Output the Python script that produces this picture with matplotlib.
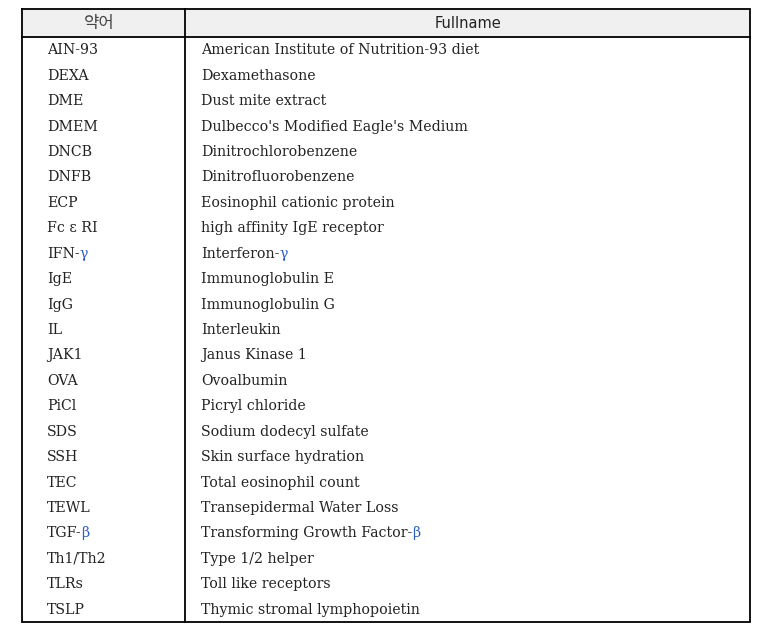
import matplotlib
matplotlib.use("Agg")
import matplotlib.pyplot as plt
from matplotlib.patches import Rectangle

header = ["약어", "Fullname"]
abbrevs = ["AIN-93", "DEXA", "DME", "DMEM", "DNCB", "DNFB", "ECP", "Fc ε RI",
           "IFN-γ", "IgE", "IgG", "IL", "JAK1", "OVA", "PiCl", "SDS", "SSH",
           "TEC", "TEWL", "TGF-β", "Th1/Th2", "TLRs", "TSLP"]
fullnames = ["American Institute of Nutrition-93 diet", "Dexamethasone",
             "Dust mite extract", "Dulbecco's Modified Eagle's Medium",
             "Dinitrochlorobenzene", "Dinitrofluorobenzene",
             "Eosinophil cationic protein", "high affinity IgE receptor",
             "Interferon-γ", "Immunoglobulin E", "Immunoglobulin G",
             "Interleukin", "Janus Kinase 1", "Ovoalbumin", "Picryl chloride",
             "Sodium dodecyl sulfate", "Skin surface hydration",
             "Total eosinophil count", "Transepidermal Water Loss",
             "Transforming Growth Factor-β", "Type 1/2 helper",
             "Toll like receptors", "Thymic stromal lymphopoietin"]

W, H = 772, 633
fig = plt.figure(figsize=(W / 100, H / 100), dpi=100)
ax = fig.add_axes([0, 0, 1, 1])
ax.set_xlim(0, W)
ax.set_ylim(H, 0)
ax.axis("off")

left, right, top, hbot, bottom, div = 22, 750, 8.5, 37, 622, 185
ax.add_patch(Rectangle((left, top), right - left, hbot - top,
                       facecolor="#f0f0f0", edgecolor="none", zorder=0))
lw = 1.3
ax.plot([left, right, right, left, left], [top, top, bottom, bottom, top],
        color="black", lw=lw, solid_joinstyle="miter")
ax.plot([left, right], [hbot, hbot], color="black", lw=lw)
ax.plot([div, div], [top, bottom], color="black", lw=lw)

hy = (top + hbot) / 2 + 1
ax.text((left + div) / 2 - 4, hy, header[0], ha="center", va="center",
        fontsize=12, family=["Noto Sans CJK KR", "DejaVu Sans"], color="#444")
ax.text((div + right) / 2, hy, header[1], ha="center", va="center",
        fontsize=10.5, family=["DejaVu Sans"], color="#222")

n = len(abbrevs)
rh = (bottom - hbot) / n
serif = ["DejaVu Serif"]
greek = "γβ"
blue = "#2a5fc0"
fs = 10.2
tcol = "#222222"

fig.canvas.draw()
renderer = fig.canvas.get_renderer()


def draw(x, y, s):
    if s and s[-1] in greek:
        t = ax.text(x, y, s[:-1], ha="left", va="center", fontsize=fs,
                    family=serif, color=tcol)
        bb = t.get_window_extent(renderer)
        x2 = ax.transData.inverted().transform((bb.x1, bb.y0))[0]
        ax.text(x2, y, s[-1], ha="left", va="center", fontsize=fs,
                family=serif, color=blue)
    else:
        ax.text(x, y, s, ha="left", va="center", fontsize=fs,
                family=serif, color=tcol)


for i, (a, f) in enumerate(zip(abbrevs, fullnames)):
    y = hbot + rh * (i + 0.5) + 0.5
    draw(47, y, a)
    draw(201, y, f)

fig.savefig("out.png", dpi=100)
